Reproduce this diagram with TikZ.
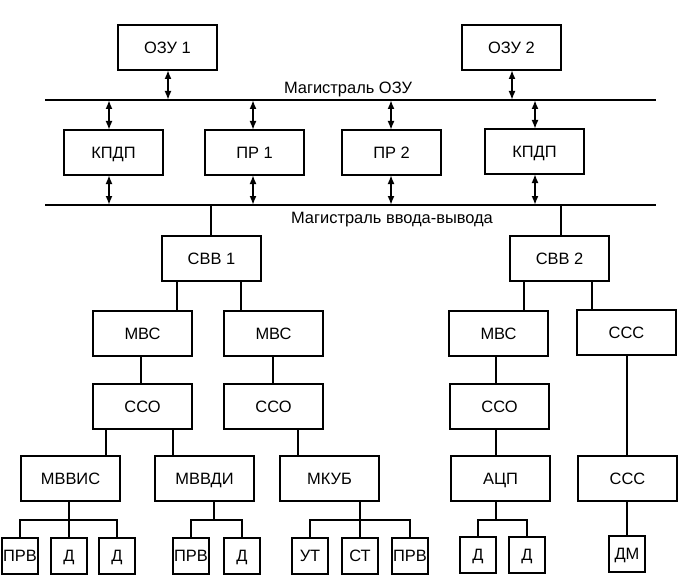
\documentclass[tikz,border=0pt]{standalone}
\usepackage{fontspec}
\setmainfont{Liberation Sans}
\usetikzlibrary{arrows.meta}
\begin{document}
\begin{tikzpicture}[x=1bp,y=-1bp,
  every node/.style={font=\fontsize{16.5}{20}\selectfont, text height=11.8bp, text depth=0bp, inner sep=0pt, outer sep=0pt},
  blk/.style={draw, line width=2bp, minimum width=99bp, minimum height=45bp},
  sm/.style={draw, line width=2bp, minimum width=36bp, minimum height=36bp},
  ln/.style={line width=2bp},
  arr/.style={line width=2bp, {Latex[length=9bp,width=7bp]}-{Latex[length=9bp,width=7bp]}}]
\useasboundingbox (0,0) rectangle (684,581);

% top row
\node[blk] (ozu1) at (167.5,47.5) {ОЗУ 1};
\node[blk] (ozu2) at (511.5,47.5) {ОЗУ 2};

% buses
\coordinate (b1w) at (45,100);
\coordinate (b1e) at (656,100);
\coordinate (b2w) at (45,205);
\coordinate (b2e) at (656,205);
\draw[ln] (b1w) -- (b1e);
\draw[ln] (b2w) -- (b2e);
\node[anchor=base] (lab1) at (348,93.5) {Магистраль ОЗУ};
\node[anchor=base] (lab2) at (392,223.5) {Магистраль ввода-вывода};

% middle row
\node[blk] (kpdp1) at (113.5,152.5) {КПДП};
\node[blk] (pr1) at (254.5,152.5) {ПР 1};
\node[blk] (pr2) at (391.5,152.5) {ПР 2};
\node[blk] (kpdp2) at (534.5,151.5) {КПДП};

\coordinate (o1b) at ([xshift=0.5bp]ozu1.south);
\coordinate (o2b) at ([xshift=0.5bp]ozu2.south);
\draw[arr] (o1b) -- (o1b |- b1w);
\draw[arr] (o2b) -- (o2b |- b1w);

\coordinate (k1t) at ([xshift=-4.5bp]kpdp1.north);
\coordinate (k1b) at ([xshift=-4.5bp]kpdp1.south);
\coordinate (p1t) at ([xshift=-1.5bp]pr1.north);
\coordinate (p1b) at ([xshift=-1.5bp]pr1.south);
\coordinate (p2t) at ([xshift=-0.5bp]pr2.north);
\coordinate (p2b) at ([xshift=-0.5bp]pr2.south);
\coordinate (k2t) at ([xshift=0.5bp]kpdp2.north);
\coordinate (k2b) at ([xshift=0.5bp]kpdp2.south);
\draw[arr] (k1t |- b1w) -- (k1t);
\draw[arr] (k1b) -- (k1b |- b2w);
\draw[arr] (p1t |- b1w) -- (p1t);
\draw[arr] (p1b) -- (p1b |- b2w);
\draw[arr] (p2t |- b1w) -- (p2t);
\draw[arr] (p2b) -- (p2b |- b2w);
\draw[arr] (k2t |- b1w) -- (k2t);
\draw[arr] (k2b) -- (k2b |- b2w);

% I/O channels
\node[blk] (svv1) at (211.5,258.5) {СВВ 1};
\node[blk] (svv2) at (559.5,258.5) {СВВ 2};
\coordinate (v1t) at ([xshift=-0.5bp]svv1.north);
\coordinate (v2t) at ([xshift=1.5bp]svv2.north);
\draw[ln] (v1t) -- (v1t |- b2w);
\draw[ln] (v2t) -- (v2t |- b2w);

\node[blk] (mvs1) at (142.5,333.5) {МВС};
\node[blk] (mvs2) at (273.5,333.5) {МВС};
\node[blk] (mvs3) at (498.5,333.5) {МВС};
\node[blk] (ccc1) at (626.5,332.5) {ССС};

\coordinate (s1a) at ([xshift=-34.5bp]svv1.south);
\coordinate (s1b) at ([xshift=29.5bp]svv1.south);
\coordinate (s2a) at ([xshift=-35.5bp]svv2.south);
\coordinate (s2b) at ([xshift=32.5bp]svv2.south);
\draw[ln] (s1a) -- (s1a |- mvs1.north);
\draw[ln] (s1b) -- (s1b |- mvs2.north);
\draw[ln] (s2a) -- (s2a |- mvs3.north);
\draw[ln] (s2b) -- (s2b |- ccc1.north);

\node[blk] (sso1) at (142.5,406.5) {ССО};
\node[blk] (sso2) at (273.5,406.5) {ССО};
\node[blk] (sso3) at (499.5,406.5) {ССО};

\coordinate (m1b) at ([xshift=-1.5bp]mvs1.south);
\coordinate (m2b) at ([xshift=-0.5bp]mvs2.south);
\coordinate (m3b) at ([xshift=-2.5bp]mvs3.south);
\coordinate (c0b) at ([xshift=0.5bp]ccc1.south);
\draw[ln] (m1b) -- (m1b |- sso1.north);
\draw[ln] (m2b) -- (m2b |- sso2.north);
\draw[ln] (m3b) -- (m3b |- sso3.north);

\node[blk] (mvvis) at (70.5,478.5) {МВВИС};
\node[blk] (mvvdi) at (204.5,478.5) {МВВДИ};
\node[blk] (mkub) at (329.5,478.5) {МКУБ};
\node[blk] (adc) at (500.5,478.5) {АЦП};
\node[blk] (ccc2) at (627.5,478.5) {ССС};

\coordinate (c1a) at ([xshift=-36.5bp]sso1.south);
\coordinate (c1b) at ([xshift=30.5bp]sso1.south);
\coordinate (c2a) at ([xshift=24.5bp]sso2.south);
\coordinate (c3a) at ([xshift=-3.5bp]sso3.south);
\draw[ln] (c1a) -- (c1a |- mvvis.north);
\draw[ln] (c1b) -- (c1b |- mvvdi.north);
\draw[ln] (c2a) -- (c2a |- mkub.north);
\draw[ln] (c3a) -- (c3a |- adc.north);
\draw[ln] (c0b) -- (c0b |- ccc2.north);

% sensors
\node[sm] (prv1) at (20,556) {ПРВ};
\node[sm] (d1) at (69,556) {Д};
\node[sm] (d2) at (117,556) {Д};
\node[sm] (prv2) at (191,556) {ПРВ};
\node[sm] (d3) at (242,556) {Д};
\node[sm] (ut) at (310,556) {УТ};
\node[sm] (st) at (360,556) {СТ};
\node[sm] (prv3) at (410,556) {ПРВ};
\node[sm] (d4) at (478,555) {Д};
\node[sm] (d5) at (527,555) {Д};
\node[sm] (dm) at (627,554) {ДМ};

\coordinate (j1) at (69,520);
\coordinate (j2) at (214,520);
\coordinate (j3) at (360,520);
\coordinate (j4) at (496,520);

\draw[ln] (j1 |- mvvis.south) -- (j1);
\draw[ln] (prv1.north) |- (j1) -| (d2.north);
\draw[ln] (d1.north) -- (d1.north |- j1);

\draw[ln] (j2 |- mvvdi.south) -- (j2);
\draw[ln] (prv2.north) |- (j2) -| (d3.north);

\draw[ln] (j3 |- mkub.south) -- (j3);
\draw[ln] (ut.north) |- (j3) -| (prv3.north);
\draw[ln] (st.north) -- (st.north |- j3);

\draw[ln] (j4 |- adc.south) -- (j4);
\draw[ln] (d4.north) |- (j4) -| (d5.north);

\draw[ln] (dm.north |- ccc2.south) -- (dm.north);
\end{tikzpicture}
\end{document}
